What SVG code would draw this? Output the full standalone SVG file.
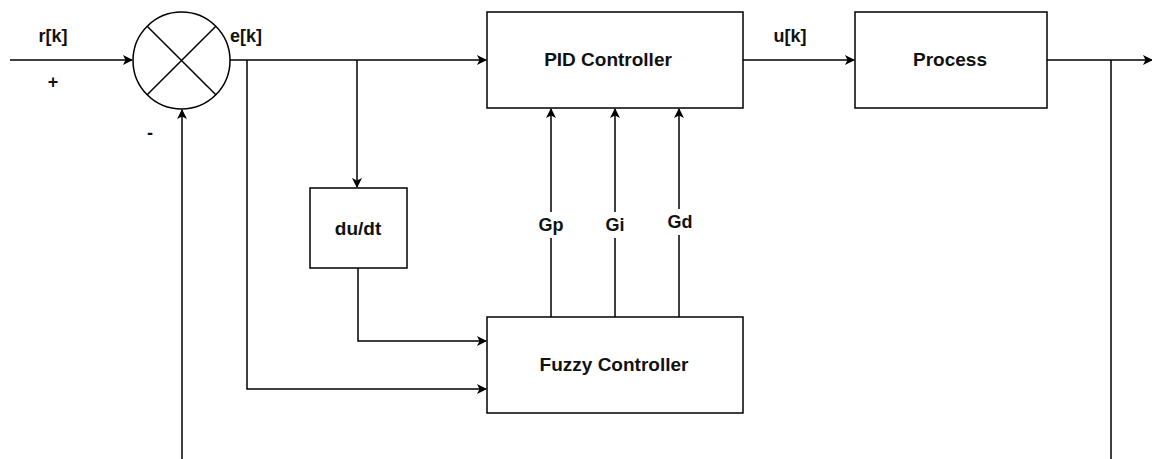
<svg xmlns="http://www.w3.org/2000/svg" width="1152" height="459" viewBox="0 0 1152 459">
<defs>
<marker id="arr" markerWidth="10" markerHeight="10" refX="9" refY="5" orient="auto" markerUnits="userSpaceOnUse">
<path d="M0,0 L10,5 L0,10 L2.5,5 Z" fill="#000"/>
</marker>
</defs>
<style>
.box{fill:#fff;stroke:#000;stroke-width:1.5}
.ln{fill:none;stroke:#000;stroke-width:1.5}
.t{font-family:"Liberation Sans",Arial,sans-serif;font-size:19px;font-weight:bold;fill:#111;text-anchor:middle;dominant-baseline:central}
.lb{font-family:"Liberation Sans",Arial,sans-serif;font-size:18px;font-weight:bold;fill:#111;text-anchor:middle;dominant-baseline:central}
</style>
<rect width="1152" height="459" fill="#fff"/>
<g id="connectors">
<path class="ln" d="M10,60 H132" marker-end="url(#arr)"/>
<path class="ln" d="M182,459 V110" marker-end="url(#arr)"/>
<path class="ln" d="M230,60 H486" marker-end="url(#arr)"/>
<path class="ln" d="M357,60 V187" marker-end="url(#arr)"/>
<path class="ln" d="M247,60 V389 H486" marker-end="url(#arr)"/>
<path class="ln" d="M358,268 V341 H486" marker-end="url(#arr)"/>
<path class="ln" d="M551,317 V109" marker-end="url(#arr)"/>
<path class="ln" d="M615,317 V109" marker-end="url(#arr)"/>
<path class="ln" d="M679,317 V109" marker-end="url(#arr)"/>
<path class="ln" d="M743,60 H854" marker-end="url(#arr)"/>
<path class="ln" d="M1047,60 H1152" marker-end="url(#arr)"/>
<path class="ln" d="M1111,60 V459"/>
</g>
<g id="sum">
<circle cx="181.5" cy="60.5" r="48.5" fill="#fff" stroke="#000" stroke-width="1.5"/>
<path class="ln" d="M147.2,26.2 L215.8,94.8 M215.8,26.2 L147.2,94.8"/>
</g>
<g id="pid"><rect class="box" x="487" y="12" width="256" height="96"/><text class="t" x="608" y="59">PID Controller</text></g>
<g id="process"><rect class="box" x="855" y="12" width="192" height="96"/><text class="t" x="950" y="59">Process</text></g>
<g id="dudt"><rect class="box" x="310" y="188" width="97" height="80"/><text class="t" x="358" y="228">du/dt</text></g>
<g id="fuzzy"><rect class="box" x="487" y="317" width="256" height="96"/><text class="t" x="614" y="364">Fuzzy Controller</text></g>
<g id="labels">
<text class="lb" x="53" y="36">r[k]</text>
<text class="lb" x="53" y="82">+</text>
<text class="lb" x="150" y="133">-</text>
<text class="lb" x="246" y="36">e[k]</text>
<text class="lb" x="790" y="36">u[k]</text>
<rect x="536" y="212" width="30" height="26" fill="#fff"/>
<text class="lb" x="551" y="225">Gp</text>
<rect x="603" y="212" width="24" height="26" fill="#fff"/>
<text class="lb" x="615" y="225">Gi</text>
<rect x="664" y="209" width="30" height="26" fill="#fff"/>
<text class="lb" x="680" y="222">Gd</text>
</g>
</svg>
